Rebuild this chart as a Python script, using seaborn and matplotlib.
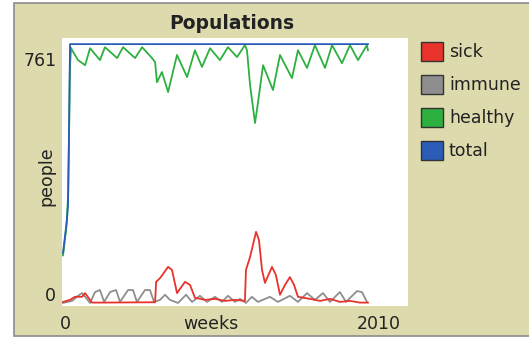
import numpy as np
import pandas as pd
import seaborn as sns
import matplotlib.pyplot as plt
from matplotlib.patches import Patch, Rectangle

# pens, in legend order
pens = ['sick', 'immune', 'healthy', 'total']
pen_colors = ['#E8322B', '#8E8E8E', '#2DB040', '#2A5CB8']

# values (weeks, people)
sick_weeks = [0, 41, 70, 111, 129, 169, 216, 538, 544, 567, 614, 637, 666, 713, 742, 771,
              830, 888, 947, 1005, 1063, 1069, 1093, 1128, 1145, 1163, 1180, 1221, 1244,
              1268, 1297, 1326, 1350, 1373, 1443, 1502, 1560, 1618, 1677, 1735, 1782]
sick_people = [3, 9, 18, 18, 29, 1, 1, 2, 62, 73, 106, 97, 29, 62, 53, 15,
               9, 12, 6, 9, 6, 97, 135, 209, 185, 97, 59, 106, 82,
               24, 53, 76, 53, 18, 12, 6, 12, 3, 6, 1, 1]

immune_weeks = [0, 53, 88, 111, 134, 158, 187, 216, 240, 275, 310, 333, 380, 409, 432,
                479, 508, 532, 567, 596, 625, 672, 719, 754, 800, 841, 888, 929, 964,
                1005, 1034, 1069, 1104, 1139, 1209, 1256, 1326, 1373, 1426, 1472, 1519,
                1560, 1618, 1654, 1718, 1747, 1776]
immune_people = [0, 6, 21, 29, 15, 0, 32, 38, 3, 32, 38, 3, 38, 38, 3,
                 38, 38, 3, 9, 24, 9, 0, 24, 3, 21, 3, 18, 3, 21,
                 3, 12, 0, 18, 3, 18, 3, 21, 3, 29, 9, 29,
                 3, 32, 3, 35, 32, 3]

healthy_weeks = [0, 20, 30, 35, 40, 47, 53, 88, 129, 158, 216, 245, 316, 351, 421, 462,
                 520, 538, 549, 578, 614, 666, 725, 771, 812, 859, 917, 964, 1017, 1063,
                 1075, 1093, 1122, 1139, 1169, 1227, 1268, 1338, 1373, 1426, 1472, 1531,
                 1572, 1630, 1677, 1724, 1776, 1782]
healthy_people = [140, 225, 320, 490, 690, 750, 743, 714, 699, 749, 714, 752, 720, 752, 720, 752,
                  720, 708, 649, 679, 620, 729, 664, 743, 694, 749, 714, 752, 723, 758,
                  743, 641, 529, 588, 699, 626, 729, 661, 743, 691, 758, 691,
                  758, 705, 758, 714, 758, 743]

total_weeks = [0, 23, 29, 35, 41, 1782]
total_people = [147, 245, 285, 500, 761, 761]

x_min_label, x_max_label = '0', '2010'
y_min_label, y_max_label = '0', '761'

df = pd.concat([
    pd.DataFrame({'week': sick_weeks, 'people': sick_people, 'pen': 'sick'}),
    pd.DataFrame({'week': immune_weeks, 'people': immune_people, 'pen': 'immune'}),
    pd.DataFrame({'week': healthy_weeks, 'people': healthy_people, 'pen': 'healthy'}),
    pd.DataFrame({'week': total_weeks, 'people': total_people, 'pen': 'total'}),
], ignore_index=True)

W, H = 529, 339
khaki = '#DDDBAD'
plt.rcParams['font.family'] = ['DejaVu Sans']
plt.rcParams['text.color'] = '#222222'

fig = plt.figure(figsize=(W / 100, H / 100), dpi=100, facecolor='white')


def px(x, y):
    return x / W, 1 - y / H


# khaki widget panel with grey frame
fig.patches.append(Rectangle(px(14, 336), (W - 14 + 10) / W, (336 - 3) / H,
                             transform=fig.transFigure, facecolor=khaki,
                             edgecolor='#8C8C8C', lw=1.2, zorder=-1))

ax = fig.add_axes([62 / W, 1 - 306 / H, (408 - 62) / W, (306 - 38) / H])
ax.set_zorder(2)
ax.set_facecolor('white')

palette = dict(zip(pens, pen_colors))
sns.lineplot(data=df, x='week', y='people', hue='pen',
             hue_order=['immune', 'sick', 'healthy', 'total'],
             palette=palette, estimator=None, sort=False, legend=False,
             lw=1.3, ax=ax)

ax.set_xlim(-6, 2016)
ax.set_ylim(-9, 779)
ax.set_xticks([])
ax.set_yticks([])
ax.set_xlabel('')
ax.set_ylabel('')
for s in ax.spines.values():
    s.set_visible(False)

fs = 12.5
fig.text(*px(232, 29), 'Populations', ha='center', va='baseline',
         fontsize=13.5, fontweight='bold')
fig.text(*px(57, 66), y_max_label, ha='right', va='baseline', fontsize=fs)
fig.text(*px(56, 301), y_min_label, ha='right', va='baseline', fontsize=fs)
fig.text(*px(65, 329), x_min_label, ha='center', va='baseline', fontsize=fs)
fig.text(*px(211, 329), 'weeks', ha='center', va='baseline', fontsize=fs)
fig.text(*px(401, 329), x_max_label, ha='right', va='baseline', fontsize=fs)
fig.text(*px(46, 176), 'people', ha='center', va='center', rotation=90, fontsize=fs)

handles = [Patch(facecolor=c, edgecolor='#333333', lw=1) for c in pen_colors]
fig.legend(handles, pens, loc='upper left', bbox_to_anchor=px(421, 42),
           frameon=False, borderpad=0, borderaxespad=0, fontsize=fs,
           handlelength=1.26, handleheight=1.32, handletextpad=0.35,
           labelspacing=0.78)

fig.savefig('out.png', dpi=100, facecolor='white')
